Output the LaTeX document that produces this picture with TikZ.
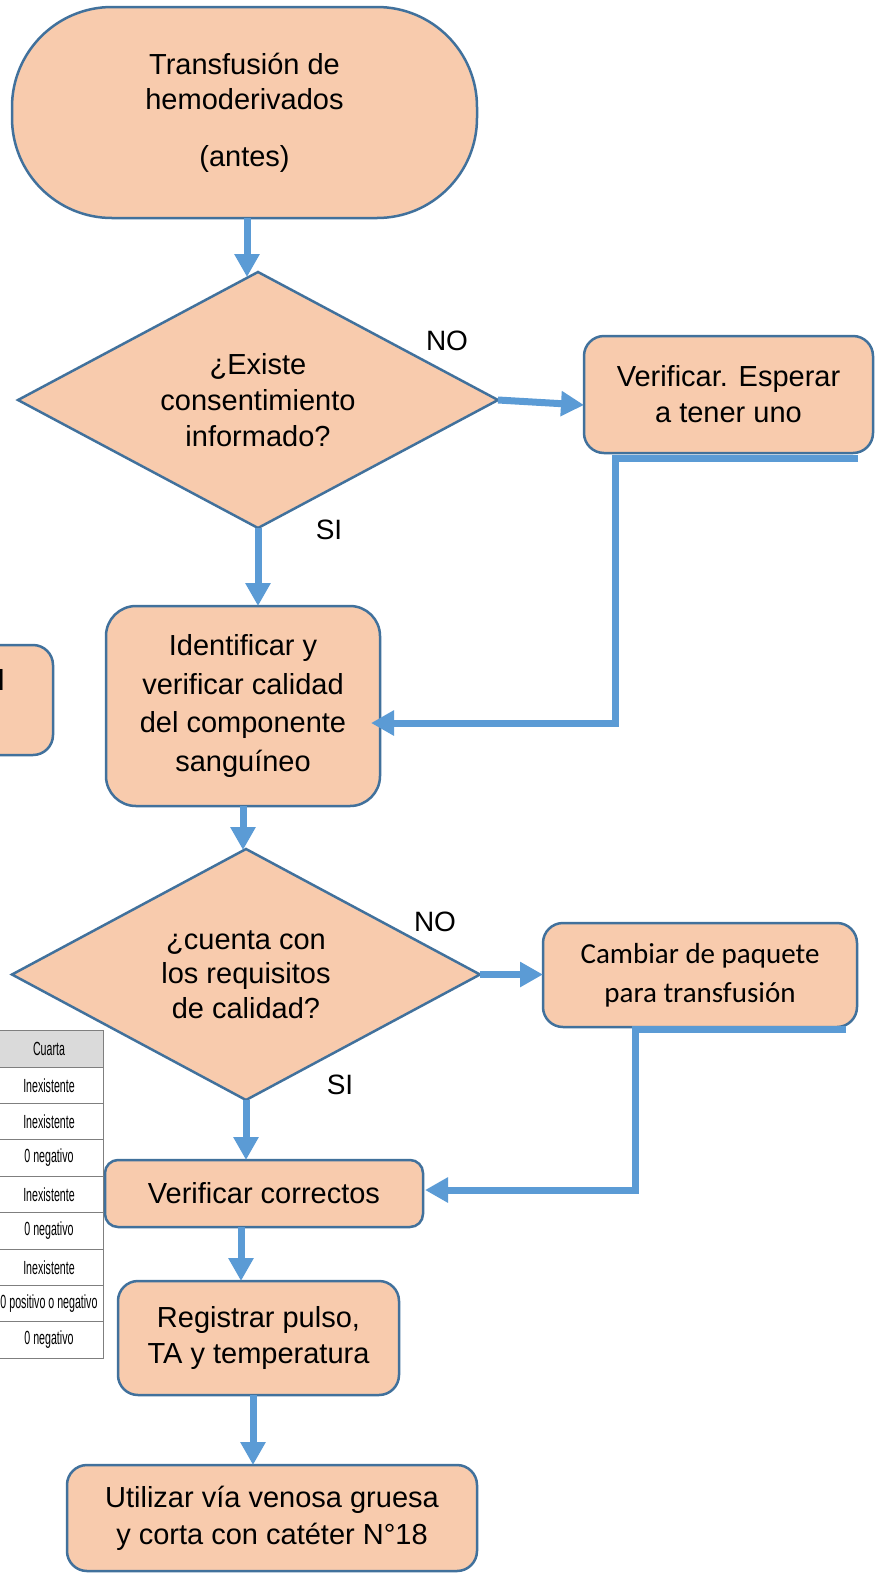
\documentclass[tikz,border=0pt]{standalone}
\usepackage{fontspec}
\setmainfont{Liberation Sans}
\newfontfamily\calib{Carlito}
\newfontfamily\narrowf[FakeStretch=0.56]{Liberation Sans}
\usetikzlibrary{shapes.geometric,arrows.meta,calc}
\definecolor{peach}{HTML}{F8CBAD}
\definecolor{bord}{HTML}{41719C}
\definecolor{arrc}{HTML}{5B9BD5}
\definecolor{tgray}{HTML}{DADADA}
\definecolor{tline}{HTML}{7F7F7F}
\tikzset{
  box/.style={draw=bord, fill=peach, line width=2.5pt, rounded corners=20pt, align=center,
    inner sep=0pt, outer sep=0pt, font=\fontsize{29pt}{36pt}\selectfont},
  dia/.style={diamond, draw=bord, fill=peach, line width=2.5pt, align=center,
    inner sep=0pt, outer sep=0pt, font=\fontsize{29pt}{36pt}\selectfont},
  arr/.style={draw=arrc, line width=7pt, -{Triangle[length=23pt,width=24pt]}},
  lbl/.style={inner sep=0pt, font=\fontsize{28pt}{34pt}\selectfont},
  cell/.style={draw=tline, line width=1pt, minimum width=108pt, minimum height=36.4pt,
    inner sep=0pt, font=\narrowf\fontsize{19pt}{22pt}\selectfont},
}
\begin{document}
\begin{tikzpicture}[x=1pt,y=-1pt]
\clip (0,0) rectangle (875,1575);
\fill[white] (0,0) rectangle (875,1575);

% partial box at the left edge
\node[box, minimum width=173pt, minimum height=110pt] (lb) at (-33.5,700) {};
\node[anchor=base west, inner sep=0pt, font=\fontsize{29pt}{36pt}\selectfont] (lbt) at (-2,690) {l};

% partial table at the left edge
\node[cell, fill=tgray, minimum height=37pt] (th) at (49,1048.5) {Cuarta};
\foreach \t [count=\i] in {Inexistente,Inexistente,0 negativo,Inexistente,0 negativo,Inexistente,0 positivo o negativo,0 negativo}
  \node[cell, fill=white] (t\i) at (49,{1067+36.4*(\i-0.5)}) {\t};

% main flow
\node[box, rounded corners=100pt, minimum width=465pt, minimum height=211pt,
  font=\fontsize{29pt}{35pt}\selectfont] (start) at (244.5,112.5)
  {Transfusión de\\hemoderivados\\[22pt](antes)};
\node[dia, aspect=1.875, minimum width=480pt, minimum height=256pt] (d1) at (258,400)
  {¿Existe\\consentimiento\\informado?};
\node[box, minimum width=289pt, minimum height=117pt] (b2) at (728.5,394.5)
  {Verificar. Esperar\\a tener uno};
\node[box, rounded corners=30pt, minimum width=274pt, minimum height=200pt,
  font=\fontsize{29pt}{38.5pt}\selectfont] (b3) at (243,706)
  {Identificar y\\verificar calidad\\del componente\\sanguíneo};
\node[dia, aspect=1.86, minimum width=468pt, minimum height=251pt,
  font=\fontsize{29pt}{34.5pt}\selectfont] (d2) at (246,974.5)
  {¿cuenta con\\los requisitos\\de calidad?};
\node[box, minimum width=314pt, minimum height=104pt,
  font=\calib\fontsize{29pt}{39pt}\selectfont] (b4) at (700,975)
  {Cambiar de paquete\\para transfusión};
\node[box, rounded corners=13pt, minimum width=318pt, minimum height=67pt] (b5) at (264,1193.5)
  {Verificar correctos};
\node[box, minimum width=281pt, minimum height=114pt] (b6) at (258.5,1338)
  {Registrar pulso,\\TA y temperatura};
\node[box, minimum width=410pt, minimum height=106pt,
  font=\fontsize{29pt}{37pt}\selectfont] (b7) at (272,1518)
  {Utilizar vía venosa gruesa\\y corta con catéter N°18};

% labels
\node[lbl] (no1) at (447,341) {NO};
\node[lbl] (si1) at (329,530) {SI};
\node[lbl] (no2) at (435,922) {NO};
\node[lbl] (si2) at (340,1085) {SI};

% route coordinates
\coordinate (c1) at (858,458);
\coordinate (c2) at (615,458);
\coordinate (c3) at (615,723);
\coordinate (c4) at (846,1029);
\coordinate (c5) at (635,1029);
\coordinate (c6) at (635,1190);

% connectors
\draw[arr] (start.south -| 247,0) -- ($(d1.north -| 247,0)+(0,5)$);
\draw[arr] (d1.east) -- ($(d1.east -| b2.west)+(0,5)$);
\draw[arr] (c1) -- (c2) -- (c3) -- ($(c3 -| b3.east)+(-9,0)$);
\draw[arr] (d1.south) -- (d1.south |- b3.north);
\draw[arr] (b3.south) -- ($(b3.south |- d2.north)+(0,1)$);
\draw[arr] (d2.east) -- (d2.east -| b4.west);
\draw[arr] (c4) -- (c5) -- (c6) -- ($(c6 -| b5.east)+(2,0)$);
\draw[arr] (d2.south) -- (d2.south |- b5.north);
\draw[arr] ($(b5.south)+(-23,0)$) -- ($(b5.south |- b6.north)+(-23,0)$);
\draw[arr] ($(b6.south)+(-5.5,0)$) -- ($(b6.south |- b7.north)+(-5.5,0)$);
\end{tikzpicture}
\end{document}
